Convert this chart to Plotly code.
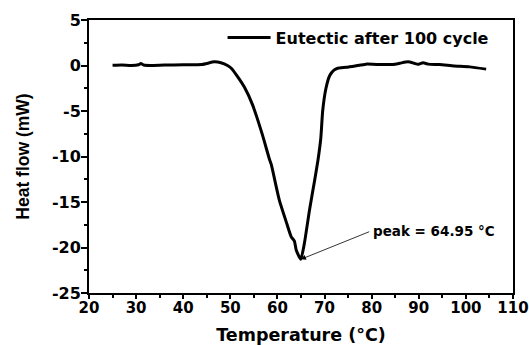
import plotly.graph_objects as go

temperature = [25.0, 27.0, 29.0, 30.5, 31.0, 31.6, 33.0, 36.0, 40.0, 44.0, 46.6, 48.0, 49.4, 50.2,
               51.5, 53.0, 54.7, 56.8, 58.3, 58.7, 60.4, 62.0, 62.9, 63.6, 64.0, 64.95,
               65.7, 66.8, 67.9, 68.6, 69.2, 69.6, 70.3, 71.1, 72.0, 72.8, 74.6, 76.5,
               78.8, 82.0, 84.5, 86.0, 87.7, 89.0, 89.8, 90.9, 92.0, 94.4, 97.5, 100.8, 104.3]
heat_flow = [0.02, 0.05, 0.0, 0.08, 0.22, 0.05, 0.0, 0.05, 0.08, 0.12, 0.4, 0.3, 0.0, -0.3,
             -1.2, -2.4, -4.3, -7.6, -10.3, -10.9, -14.8, -17.4, -18.8, -19.3, -20.3, -21.3,
             -19.6, -15.9, -12.6, -10.4, -8.0, -5.0, -2.5, -1.1, -0.5, -0.3, -0.2, -0.05,
             0.15, 0.1, 0.12, 0.25, 0.4, 0.25, 0.13, 0.3, 0.15, 0.1, -0.05, -0.15, -0.4]

x_ticks = [20, 30, 40, 50, 60, 70, 80, 90, 100, 110]
y_ticks = [5, 0, -5, -10, -15, -20, -25]

peak_T = 64.95
peak_y = -21.3
label_T = 79.8
label_y = -18.2

WIDE = "DejaVu Sans, sans-serif"
NARROW = "Liberation Sans, Arial, sans-serif"

fig = go.Figure()
fig.add_trace(go.Scatter(x=temperature, y=heat_flow, mode="lines",
                         line=dict(color="black", width=3, shape="spline", smoothing=0.5),
                         name="Eutectic after 100 cycle"))

axis_common = dict(showline=True, linecolor="black", linewidth=2, mirror=True,
                   ticks="outside", tickwidth=2, tickcolor="black",
                   showgrid=False, zeroline=False, automargin=False,
                   ticklabeloverflow="allow")

fig.update_xaxes(range=[20, 110], tickvals=x_ticks, ticktext=[str(v) for v in x_ticks], ticklen=4,
                 ticklabelstandoff=-4,
                 tickfont=dict(family=WIDE, size=15, color="black", weight="bold"),
                 minor=dict(dtick=5, tick0=20, ticks="outside", ticklen=3, tickwidth=1.5, tickcolor="black"),
                 title=dict(text="Temperature (°C)", standoff=14,
                            font=dict(family=WIDE, size=17.5, color="black", weight="bold")),
                 **axis_common)
fig.update_yaxes(range=[-25, 5], tickvals=y_ticks, ticktext=[str(v) for v in y_ticks], ticklen=6,
                 ticklabelstandoff=-3,
                 tickfont=dict(family=WIDE, size=16, color="black", weight="bold"),
                 minor=dict(dtick=2.5, tick0=0, ticks="outside", ticklen=3, tickwidth=1.5, tickcolor="black"),
                 title=dict(text="Heat flow (mW)", standoff=18,
                            font=dict(family=NARROW, size=17.5, color="black", weight="bold")),
                 **axis_common)

fig.add_annotation(x=peak_T, y=peak_y, ax=label_T, ay=label_y, axref="x", ayref="y",
                   xref="x", yref="y", text="", showarrow=True, arrowhead=2,
                   arrowsize=1.3, arrowwidth=0.8, arrowcolor="black")
fig.add_annotation(x=label_T, y=label_y, xref="x", yref="y", text="peak = 64.95 °C",
                   showarrow=False, xanchor="left", yanchor="middle",
                   font=dict(family=WIDE, size=13.5, color="black", weight="bold"))

fig.update_layout(
    width=529, height=345,
    margin=dict(l=89, r=16, t=20, b=52),
    paper_bgcolor="white", plot_bgcolor="white",
    showlegend=True,
    legend=dict(x=0.315, y=0.998, xanchor="left", yanchor="top", bgcolor="rgba(0,0,0,0)",
                font=dict(family=WIDE, size=16, color="black", weight="bold"),
                itemwidth=43),
)

# remove the page's default body margin so the figure fills the window exactly
fig.write_html("out.html",
               config={"displayModeBar": False},
               post_script="document.body.style.margin='0';document.body.style.overflow='hidden';")
